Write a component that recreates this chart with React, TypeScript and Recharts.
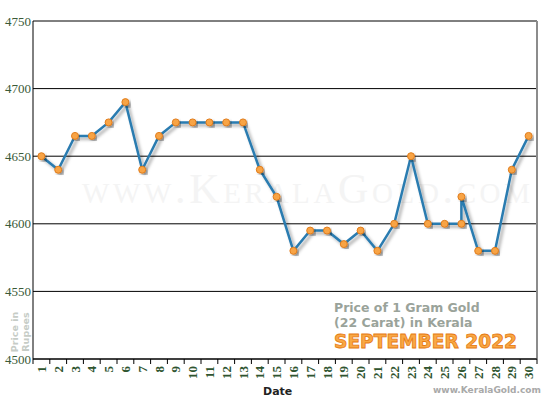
import { LineChart, Line, XAxis, YAxis, CartesianGrid, ReferenceLine } from "recharts";

// day 26 has two rates (morning / afternoon)
const days = [1, 2, 3, 4, 5, 6, 7, 8, 9, 10, 11, 12, 13, 14, 15, 16, 17, 18, 19, 20, 21, 22, 23, 24, 25, 26, 26, 27, 28, 29, 30];
const prices = [4650, 4640, 4665, 4665, 4675, 4690, 4640, 4665, 4675, 4675, 4675, 4675, 4675, 4640, 4620, 4580, 4595, 4595, 4585, 4595, 4580, 4600, 4650, 4600, 4600, 4600, 4620, 4580, 4580, 4640, 4665];
const dayTicks = [1, 2, 3, 4, 5, 6, 7, 8, 9, 10, 11, 12, 13, 14, 15, 16, 17, 18, 19, 20, 21, 22, 23, 24, 25, 26, 27, 28, 29, 30];
const priceTicks = [4500, 4550, 4600, 4650, 4700, 4750];

const data = days.map((d, i) => ({ day: d, price: prices[i] }));

const W = 550;
const H = 400;
const HALF_BAND = 504 / 30 / 2;

function DayTick(props: any) {
  const { x, y, payload, index } = props;
  const last = index === dayTicks.length - 1;
  return (
    <g>
      <line x1={x - HALF_BAND} x2={x - HALF_BAND} y1={y} y2={y + 5} stroke="#000" />
      {last && <line x1={x + HALF_BAND} x2={x + HALF_BAND} y1={y} y2={y + 5} stroke="#000" />}
      <text
        x={x}
        y={y + 7}
        transform={`rotate(-90, ${x}, ${y + 7})`}
        textAnchor="end"
        dy={4.5}
        fontFamily="'Liberation Serif', serif"
        fontWeight="bold"
        fontSize={13}
        fill="#2f5530"
      >
        {payload.value}
      </text>
    </g>
  );
}

function PriceTick(props: any) {
  const { x, y, payload } = props;
  return (
    <text x={x} y={y} dy={4.5} textAnchor="end" fontFamily="'Liberation Serif', serif" fontSize={13} fill="#3a5a38">
      {payload.value}
    </text>
  );
}

export default function App() {
  return (
    <div style={{ position: "absolute", left: 0, top: 0, width: W, height: H, background: "#fff", overflow: "hidden" }}>
      <svg width={W} height={H} style={{ position: "absolute", left: 0, top: 0 }}>
        <defs>
          <filter id="shadow" x="-20%" y="-20%" width="140%" height="140%">
            <feDropShadow dx="2.5" dy="2.5" stdDeviation="1.5" floodColor="#000" floodOpacity="0.35" />
          </filter>
        </defs>
        <text
          x={82}
          y={203}
          textLength={448}
          lengthAdjust="spacing"
          fontFamily="'Liberation Serif', serif"
          fontSize={42}
          fill="#f4f4f4"
          style={{ fontVariant: "small-caps" }}
        >
          www.KeralaGold.com
        </text>
      </svg>
      <div style={{ position: "absolute", left: 0, top: 0 }}>
        <LineChart width={W} height={H} data={data} margin={{ top: 21, right: 13, bottom: 0, left: 0 }}>
          <CartesianGrid vertical={false} stroke="#000" strokeWidth={1} strokeDasharray="" />
          <XAxis
            dataKey="day"
            type="number"
            domain={[0.5, 30.5]}
            ticks={dayTicks}
            interval={0}
            height={41}
            tickSize={0}
            tickMargin={0}
            tickLine={false}
            axisLine={{ stroke: "#000", strokeWidth: 1 }}
            tick={<DayTick />}
          />
          <YAxis
            domain={[4500, 4750]}
            ticks={priceTicks}
            width={33}
            tickSize={0}
            tickMargin={2}
            tickLine={false}
            axisLine={{ stroke: "#000", strokeWidth: 1 }}
            tick={<PriceTick />}
          />
          <ReferenceLine x={30.5} stroke="#8c8c8c" strokeWidth={2} />
          <Line
            dataKey="price"
            type="linear"
            stroke="#2a7bb0"
            strokeWidth={2.5}
            filter="url(#shadow)"
            dot={{ r: 3.5, fill: "#f8a444", stroke: "#e07c1c", strokeWidth: 1, filter: "url(#shadow)" }}
            isAnimationActive={false}
          />
        </LineChart>
      </div>
      <svg width={W} height={H} style={{ position: "absolute", left: 0, top: 0, pointerEvents: "none" }}>
        <text
          x={0}
          y={0}
          transform="translate(20, 332) rotate(-90)"
          textAnchor="middle"
          fontFamily="'DejaVu Sans', sans-serif"
          fontWeight="bold"
          fontSize={9.5}
          fill="#c6ccc6"
        >
          <tspan x={0} dy={-2}>Price in</tspan>
          <tspan x={0} dy={11}>Rupees</tspan>
        </text>
        <g fontFamily="'DejaVu Sans', sans-serif" fontWeight="bold">
          <text x={334} y={311.5} fontSize={12.5} fill="#9aa39a">Price of 1 Gram Gold</text>
          <text x={334} y={327} fontSize={12.5} fill="#9aa39a">(22 Carat) in Kerala</text>
          <text x={334} y={347.5} fontSize={18.6} fill="#f9a845" stroke="#e57a12" strokeWidth={0.8}>SEPTEMBER 2022</text>
          <text x={263} y={395} fontSize={11} fill="#222">Date</text>
          <text x={433} y={393} fontSize={9} fill="#a9a9a9">www.KeralaGold.com</text>
        </g>
      </svg>
    </div>
  );
}
